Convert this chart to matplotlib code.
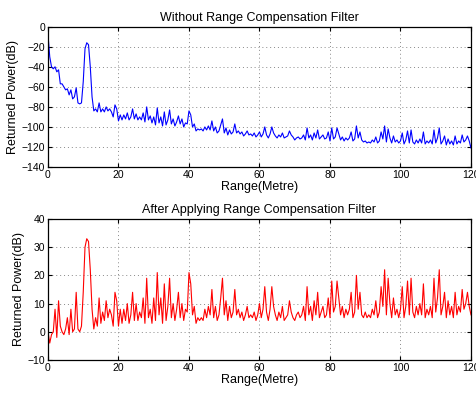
import numpy as np
import matplotlib
matplotlib.use("Agg")
from matplotlib import pyplot as plt

plt.rcParams['font.family'] = ['Liberation Sans', 'DejaVu Sans']

# range axis, 0.5 m step
rng = np.arange(0, 120.5, 0.5)

# returned power before range compensation (dB)
power_raw = [
    -8, -30, -40, -42, -40, -45, -43, -57, -57, -60, -63, -62, -68, -63, -72, -70, -61, -76, -77, -76,
    -55, -22, -16, -18, -40, -70, -84, -82, -85, -76, -85, -82, -85, -80, -84, -82, -85, -90, -78, -82,
    -94, -88, -93, -88, -92, -86, -93, -90, -82, -92, -87, -93, -90, -93, -86, -95, -80, -93, -89, -96,
    -90, -98, -81, -96, -90, -99, -85, -98, -93, -83, -97, -92, -99, -95, -89, -97, -92, -100, -96, -97,
    -84, -88, -100, -97, -104, -102, -103, -102, -104, -100, -103, -99, -103, -94, -104, -100, -106, -104, -98, -92,
    -106, -101, -108, -103, -107, -105, -97, -106, -104, -107, -105, -109, -107, -104, -108, -107, -109, -106, -110, -108,
    -105, -110, -107, -100, -108, -111, -107, -100, -106, -109, -111, -108, -110, -106, -111, -110, -109, -104, -108, -110,
    -113, -111, -110, -112, -111, -108, -113, -101, -111, -108, -113, -106, -111, -103, -112, -110, -108, -112, -111, -105,
    -114, -101, -112, -110, -101, -107, -113, -110, -114, -111, -113, -111, -105, -114, -112, -99, -111, -105, -113, -115,
    -114, -116, -115, -116, -113, -115, -110, -116, -114, -105, -112, -99, -115, -102, -111, -116, -109, -115, -113, -116,
    -114, -106, -117, -113, -104, -116, -103, -115, -117, -113, -116, -112, -116, -105, -117, -114, -116, -113, -117, -103,
    -116, -111, -101, -117, -114, -109, -118, -112, -117, -114, -118, -109, -117, -114, -116, -108, -115, -113, -109, -114,
    -121,
]

# returned power after range compensation (dB)
power_comp = [
    0, -4, -1, 0, 8, -2, 11, 2, 0, -1, 1, 5, -1, 8, 0, 1, 14, 1, 0, 2,
    14, 30, 33, 32, 22, 8, 1, 5, 2, 12, 3, 7, 4, 11, 5, 8, 6, 2, 14, 11,
    2, 8, 3, 8, 4, 10, 3, 6, 14, 4, 10, 4, 7, 5, 12, 3, 19, 5, 8, 3,
    12, 4, 21, 6, 12, 3, 17, 4, 9, 19, 5, 10, 4, 8, 14, 5, 10, 4, 8, 7,
    21, 17, 6, 9, 3, 5, 4, 5, 4, 8, 5, 9, 6, 15, 5, 9, 4, 6, 12, 19,
    6, 11, 4, 9, 5, 7, 15, 6, 8, 5, 7, 4, 6, 9, 5, 6, 5, 7, 4, 6,
    10, 5, 8, 16, 7, 4, 8, 16, 9, 6, 4, 7, 5, 9, 4, 5, 6, 11, 7, 5,
    4, 6, 7, 5, 6, 9, 4, 16, 6, 9, 4, 11, 6, 14, 5, 7, 9, 5, 6, 12,
    5, 18, 7, 9, 18, 12, 6, 9, 5, 8, 6, 8, 14, 5, 7, 20, 8, 14, 6, 5,
    7, 5, 6, 5, 8, 6, 11, 5, 7, 16, 9, 22, 6, 19, 10, 5, 12, 6, 8, 5,
    8, 16, 5, 9, 18, 6, 19, 7, 5, 9, 6, 10, 6, 17, 5, 8, 6, 9, 5, 19,
    7, 12, 22, 6, 9, 14, 5, 11, 6, 9, 5, 14, 6, 9, 7, 15, 8, 10, 14, 9,
    6,
]

fig = plt.figure(figsize=(4.77, 3.93), dpi=100)
ax1 = fig.add_axes([0.1006, 0.575, 0.8868, 0.357])
ax2 = fig.add_axes([0.1006, 0.084, 0.8868, 0.3588])

for ax, y, col, title, ylim, yt in [
        (ax1, power_raw, (0, 0, 1), 'Without Range Compensation Filter', (-140, 0), range(-140, 1, 20)),
        (ax2, power_comp, (1, 0, 0), 'After Applying Range Compensation Filter', (-10, 40), range(-10, 41, 10))]:
    ax.plot(rng, y, color=col, lw=0.8)
    ax.set_xlim(0, 120)
    ax.set_ylim(*ylim)
    ax.set_yticks(list(yt))
    ax.set_xticks(range(0, 121, 20))
    ax.grid(True, linestyle=(0, (1, 3)), color='#888888', lw=0.7)
    ax.tick_params(direction='in', labelsize=7.5, length=3, top=True, right=True, pad=2)
    ax.set_title(title, fontsize=9, pad=4)
    ax.set_xlabel('Range(Metre)', fontsize=9, labelpad=1)
    ax.set_ylabel('Returned Power(dB)', fontsize=9, labelpad=2)
    for s in ax.spines.values():
        s.set_linewidth(0.9)

fig.savefig('out.png', dpi=100)
